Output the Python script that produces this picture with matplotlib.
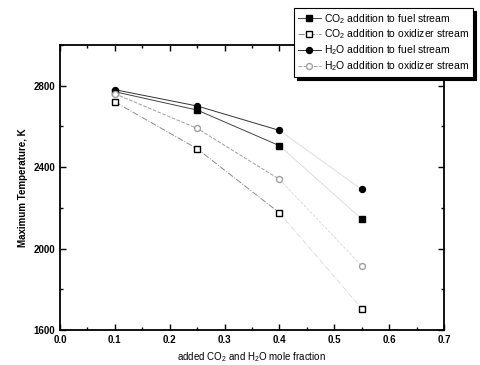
import matplotlib
matplotlib.use("Agg")
import matplotlib.pyplot as plt
from matplotlib.ticker import MultipleLocator

plt.rcParams['font.family'] = ['Liberation Sans', 'DejaVu Sans']
plt.rcParams['mathtext.fontset'] = 'custom'
plt.rcParams['mathtext.rm'] = 'Liberation Sans'

x = [0.1, 0.25, 0.4, 0.55]
co2_fuel = [2770, 2680, 2505, 2145]
co2_oxid = [2720, 2490, 2175, 1705]
h2o_fuel = [2780, 2700, 2580, 2290]
h2o_oxid = [2760, 2590, 2340, 1915]

labels = [
    "CO$_2$ addition to fuel stream",
    "CO$_2$ addition to oxidizer stream",
    "H$_2$O addition to fuel stream",
    "H$_2$O addition to oxidizer stream",
]

styles = [
    dict(color='#444444', ls='-', marker='s', ms=3.8, mfc='black', mec='black'),
    dict(color='#8a8a8a', ls='-.', marker='s', ms=3.8, mfc='white', mec='black'),
    dict(color='#333333', ls='-', marker='o', ms=4.3, mfc='black', mec='black'),
    dict(color='#a0a0a0', ls='--', marker='o', ms=4.3, mfc='white', mec='#a0a0a0'),
]

fig = plt.figure(figsize=(4.8, 3.65), dpi=100)
ax = fig.add_axes([0.125, 0.096, 0.8, 0.781])

for y, lab, st in zip([co2_fuel, co2_oxid, h2o_fuel, h2o_oxid], labels, styles):
    ax.plot(x[:3], y[:3], lw=0.7, label=lab, **st)
    # last segment is barely visible in the scanned original
    ax.plot(x[2:], y[2:], lw=0.6, color='#d8d8d8', ls=st['ls'], zorder=1)
    ax.plot(x[3:], y[3:], lw=0, marker=st['marker'], ms=st['ms'],
            mfc=st['mfc'], mec=st['mec'], zorder=3)

ax.set_xlim(0.0, 0.7)
ax.set_ylim(1600, 3000)
ax.xaxis.set_major_locator(MultipleLocator(0.1))
ax.xaxis.set_minor_locator(MultipleLocator(0.05))
ax.yaxis.set_major_locator(MultipleLocator(400))
ax.yaxis.set_minor_locator(MultipleLocator(200))
ax.tick_params(which='both', direction='in', top=True, right=True,
               labelsize=7, width=1)
ax.tick_params(which='major', length=4)
ax.tick_params(which='minor', length=2.5)
for s in ax.spines.values():
    s.set_linewidth(1.3)
for t in ax.get_xticklabels() + ax.get_yticklabels():
    t.set_fontweight('bold')

ax.set_xlabel("added CO$_2$ and H$_2$O mole fraction", fontsize=7)
ax.set_ylabel("Maximum Temperature, K", fontsize=7, fontweight='bold')

leg = ax.legend(loc='upper right', bbox_to_anchor=(0.996, 0.992),
                bbox_transform=fig.transFigure,
                fontsize=7.5, frameon=True, fancybox=False,
                edgecolor='black', handlelength=2.2, labelspacing=0.2,
                borderpad=0.35, handletextpad=0.3,
                shadow={'color': 'black', 'alpha': 1})
leg.get_frame().set_linewidth(0.8)

fig.savefig("out.png", dpi=100)
